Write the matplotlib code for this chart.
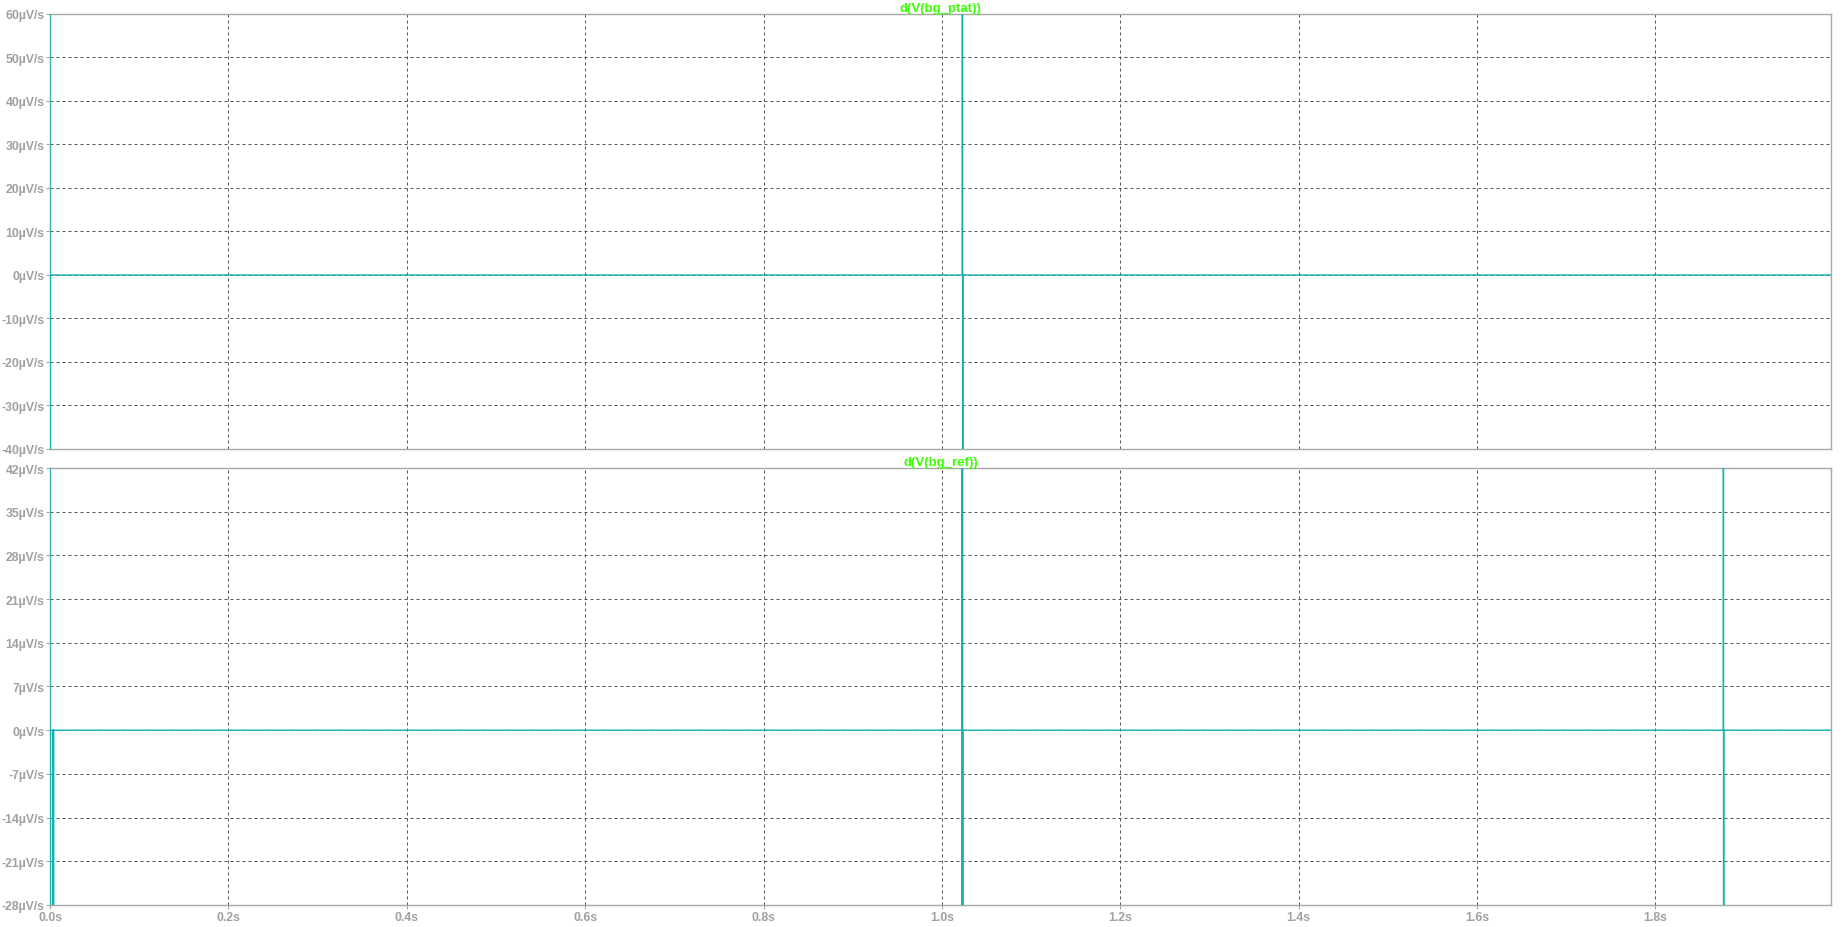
import matplotlib
matplotlib.use('Agg')
import matplotlib.pyplot as plt
from matplotlib.ticker import FuncFormatter, MultipleLocator

plt.rcParams['font.family'] = ['Liberation Sans', 'DejaVu Sans']

# trace data, time in s, derivative in uV/s (spikes run far off scale)
t_ptat = [0.0, 0.0002, 0.0004, 1.0228, 1.0231, 1.0234, 1.0236, 1.997]
v_ptat = [900.0, -900.0, 0.0, 0.0, 900.0, -900.0, 0.0, 0.0]

t_ref = [0.0, 0.0002, 0.0004, 0.0034, 0.0035, 0.0036, 0.0037, 0.0038, 0.0039, 0.0040,
         1.0226, 1.0227, 1.0229, 1.0231, 1.0233, 1.0235, 1.8762, 1.8763, 1.8765, 1.8767,
         1.997]
v_ref = [900.0, -900.0, 0.0, 0.0, -900.0, 0.0, -900.0, 0.0, -900.0, 0.0,
         0.0, 900.0, -900.0, 900.0, -900.0, 0.0, 0.0, 900.0, -900.0, 0.0,
         0.0]

titles = ['d(V(bg_ptat))', 'd(V(bg_ref))']
ylims = [(-40, 60), (-28, 42)]
ysteps = [10, 7]
x_max = 1.997

trace_col = '#12B2B2'
frame_col = '#A8A8A8'
label_col = '#A0A0A0'
title_col = '#3CFF00'

fig = plt.figure(figsize=(18.43, 9.28), dpi=100)
ax_top = fig.add_axes([0.02713, 0.5151, 0.9664, 0.46875])
ax_bot = fig.add_axes([0.02713, 0.02371, 0.9664, 0.4709])

for ax, t, v, title, ylim, ystep in zip([ax_top, ax_bot], [t_ptat, t_ref], [v_ptat, v_ref],
                                        titles, ylims, ysteps):
    ax.plot(t, v, color=trace_col, lw=1.0, zorder=3, clip_on=True)
    ax.set_xlim(0, x_max)
    ax.set_ylim(*ylim)
    ax.xaxis.set_major_locator(MultipleLocator(0.2))
    ax.yaxis.set_major_locator(MultipleLocator(ystep))
    ax.yaxis.set_major_formatter(FuncFormatter(lambda y, p: f'{y:.0f}\u00b5V/s'))
    ax.xaxis.set_major_formatter(FuncFormatter(lambda x, p: f'{x:.1f}s'))
    ax.grid(True, color='#555555', lw=0.72, linestyle=(0, (3, 3)))
    for s in ax.spines.values():
        s.set_color(frame_col)
        s.set_linewidth(1.0)
    ax.tick_params(axis='both', colors=frame_col, labelcolor=label_col, labelsize=8.8,
                   length=3, width=0.8, pad=1)
    for lbl in ax.get_yticklabels() + ax.get_xticklabels():
        lbl.set_fontweight('bold')
    ax.set_title(title, color=title_col, fontsize=9.5, fontweight='bold', pad=2)

ax_top.tick_params(axis='x', labelbottom=False, length=0)

fig.savefig('out.png', dpi=100)
